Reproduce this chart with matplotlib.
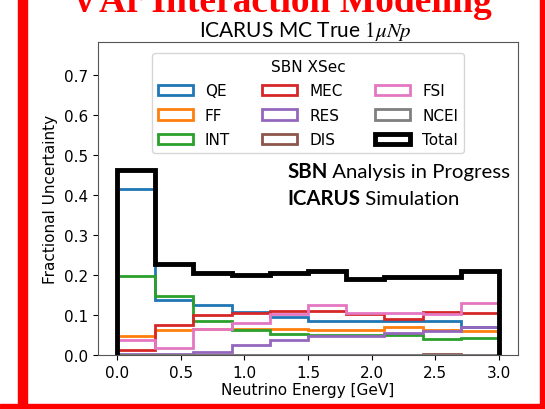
import numpy as np
import matplotlib
matplotlib.use("Agg")
import matplotlib.pyplot as plt
from matplotlib.patches import Rectangle

# bin edges in GeV
edges = np.arange(0.0, 3.01, 0.3)

# fractional uncertainty per bin
qe = [0.414, 0.138, 0.125, 0.108, 0.096, 0.086, 0.084, 0.084, 0.085, 0.071]
ff = [0.047, 0.062, 0.066, 0.064, 0.065, 0.063, 0.063, 0.069, 0.063, 0.059]
int_ = [0.198, 0.147, 0.084, 0.062, 0.053, 0.050, 0.049, 0.050, 0.041, 0.042]
mec = [0.012, 0.076, 0.099, 0.106, 0.111, 0.110, 0.102, 0.090, 0.108, 0.106]
res = [0.002, 0.002, 0.008, 0.024, 0.037, 0.048, 0.048, 0.056, 0.061, 0.069]
dis = [0.0, 0.0, 0.0, 0.0, 0.0, 0.0, 0.0, 0.0, 0.003, 0.0]
fsi = [0.038, 0.017, 0.066, 0.081, 0.102, 0.125, 0.104, 0.104, 0.102, 0.131]
ncel = [0.0, 0.0, 0.0, 0.0, 0.0, 0.0, 0.0, 0.0, 0.0, 0.0]
total = [0.462, 0.227, 0.206, 0.200, 0.204, 0.210, 0.191, 0.195, 0.196, 0.210]

names = ["QE", "FF", "INT", "MEC", "RES", "DIS", "FSI", "NCEl"]
series = [qe, ff, int_, mec, res, dis, fsi, ncel]


def bold_then_plain(ax, x, y, bold, plain, size):
    # bold word followed by plain text on the same baseline
    t = ax.text(x, y, bold, transform=ax.transAxes, family="Lato",
                fontweight="bold", fontsize=size, va="baseline")
    r = ax.figure.canvas.get_renderer()
    bb = t.get_window_extent(r)
    x_end = ax.transAxes.inverted().transform((bb.x1, bb.y0))[0]
    ax.text(x_end, y, " " + plain, transform=ax.transAxes, family="Lato",
            fontsize=size, va="baseline")


def main():
    plt.rcParams["font.size"] = 11
    plt.rcParams["mathtext.fontset"] = "stix"

    fig = plt.figure(figsize=(5.45, 4.10), dpi=100)
    ax = fig.add_axes([98 / 545, 54 / 410, 420 / 545, 313 / 410])

    centers = 0.5 * (edges[:-1] + edges[1:])
    for i, (name, vals) in enumerate(zip(names, series)):
        ax.hist(centers, bins=edges, weights=vals, histtype="step",
                color="C%d" % i, lw=2, label=name)
    ax.hist(centers, bins=edges, weights=total, histtype="step",
            color="black", lw=3.5, label="Total")

    ax.set_xlim(-0.15, 3.15)
    ax.set_ylim(0, 0.7825)
    ax.set_xticks(np.arange(0, 3.01, 0.5))
    ax.set_yticks(np.arange(0, 0.71, 0.1))
    ax.set_xlabel("Neutrino Energy [GeV]", labelpad=2)
    ax.set_ylabel("Fractional Uncertainty")
    for s in ax.spines.values():
        s.set_color("#555555")

    ax.legend(title="SBN XSec", ncol=3, loc="upper center",
              bbox_to_anchor=(0.5, 0.99), handlelength=2.3,
              columnspacing=2.1, labelspacing=0.62,
              fontsize=11, title_fontsize=11)

    # text boxes from the slide
    bold_then_plain(ax, 0.45, 0.568, "SBN", "Analysis in Progress", 14.7)
    bold_then_plain(ax, 0.45, 0.482, "ICARUS", "Simulation", 14.7)

    fig.text(305 / 545, 1 - 37 / 410, r"ICARUS MC True $1\mu Np$",
             family="Lato", fontsize=15, ha="center", va="baseline")

    # red slide title and frame
    fig.text(283 / 545, 1 - 12 / 410, "ν Ar Interaction Modeling",
             family="Liberation Serif", fontweight="bold", fontsize=27,
             color="red", ha="center", va="baseline")
    fig.add_artist(Rectangle((18 / 545, 0), 9 / 545, 1, color="red",
                             transform=fig.transFigure))
    fig.add_artist(Rectangle((540 / 545, 0), 5 / 545, 1, color="red",
                             transform=fig.transFigure))
    fig.add_artist(Rectangle((0, 0), 1, 5 / 410, color="red",
                             transform=fig.transFigure))

    fig.savefig("out.png", dpi=100)


if __name__ == "__main__":
    main()
